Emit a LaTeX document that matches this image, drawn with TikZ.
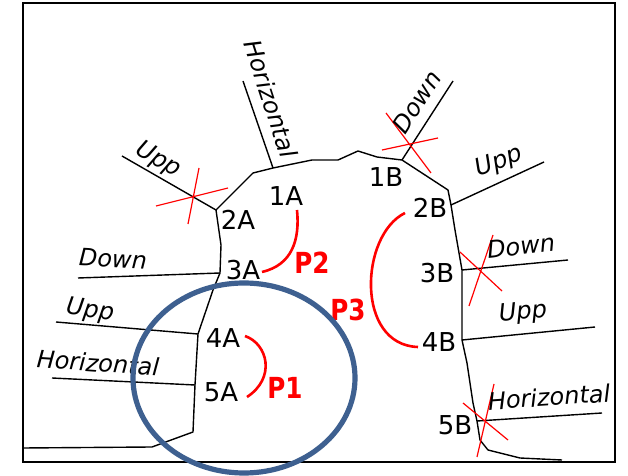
\documentclass[tikz,border=0pt]{standalone}
\usepackage{fontspec}
\setmainfont{DejaVu Sans}
\newfontfamily\passfont[FakeStretch=0.85]{DejaVu Sans}
\definecolor{ringblue}{HTML}{3E6090}
\begin{document}
\begin{tikzpicture}[x=0.5pt,y=-0.5pt,
    road/.style={black,line width=0.7pt,line join=round},
    cross/.style={red,line width=0.6pt},
    pass/.style={red,line width=1.3pt},
    hand/.style={font=\itshape\fontsize{12}{12}\selectfont,inner sep=1pt},
    stn/.style={font=\fontsize{13}{13}\selectfont},
    plabel/.style={red,font=\passfont\bfseries\fontsize{14.5}{14.5}\selectfont}]
    \useasboundingbox (0,0) rectangle (628,476);
    \draw[line width=1pt] (23,3) rectangle (615,462); %Frame
    % junction points
    \coordinate (j1A) at (273,168);
    \coordinate (j2A) at (216,210);
    \coordinate (j3A) at (220,273);
    \coordinate (j4A) at (198,334);
    \coordinate (j5A) at (195,385);
    \coordinate (j1B) at (402,160);
    \coordinate (j2B) at (451,205);
    \coordinate (j3B) at (462,270);
    \coordinate (j4B) at (462,340);
    \coordinate (j5B) at (477,421);
    % main road
    \draw[road] (23,448) -- (152,447) -- (193,432) -- (j5A) -- (j4A) -- (213,290)
        -- (j3A) -- (221,245) -- (j2A) -- (253,173) -- (j1A) -- (312,160)
        -- (338,160) -- (358,151) -- (377,157) -- (j1B) -- (448,190) -- (j2B)
        -- (455,230) -- (j3B) -- (j4B) -- (467,363) -- (473,403) -- (j5B)
        -- (480,440) -- (488,450) -- (520,458) -- (562,460);
    % side roads
    \draw[road] (j2A) -- (122,156);
    \draw[road] (j1A) -- (243,81);
    \draw[road] (j3A) -- (78,278);
    \draw[road] (j4A) -- (56,322);
    \draw[road] (j5A) -- (52,378);
    \draw[road] (j1B) -- (453,81);
    \draw[road] (j2B) -- (544,162);
    \draw[road] (j3B) -- (568,260);
    \draw[road] (j4B) -- (595,327);
    \draw[road] (j5B) -- (602,413);
    % closed roads
    \draw[cross] (156,206) -- (228,188) (199,168) -- (188,224);
    \draw[cross] (382,150) -- (438,138) (386,113) -- (431,173);
    \draw[cross] (460,252) -- (502,291) (493,235) -- (469,306);
    \draw[cross] (463,403) -- (508,440) (494,384) -- (477,457);
    % road names
    \node[hand,rotate=-30] (nUppA) at (158,160) {Upp};
    \node[hand,rotate=-72] (nHorA) at (271,99) {Horizontal};
    \node[hand,rotate=-3] (nDownA) at (113,259) {Down};
    \node[hand,rotate=-8] (nUppA2) at (90,311) {Upp};
    \node[hand,rotate=-4] (nHorA2) at (98,363) {Horizontal};
    \node[hand,rotate=57] (nDownB) at (417,102) {Down};
    \node[hand,rotate=20] (nUppB) at (499,162) {Upp};
    \node[hand,rotate=6] (nDownB2) at (521,246) {Down};
    \node[hand,rotate=5] (nUppB2) at (523,313) {Upp};
    \node[hand,rotate=4] (nHorB) at (549,397) {Horizontal};
    % stations
    \node[stn] (s1A) at (286,196) {1A};
    \node[stn] (s2A) at (238,220) {2A};
    \node[stn] (s3A) at (243,270) {3A};
    \node[stn] (s4A) at (223,338) {4A};
    \node[stn] (s5A) at (221,392) {5A};
    \node[stn] (s1B) at (386,177) {1B};
    \node[stn] (s2B) at (430,208) {2B};
    \node[stn] (s3B) at (437,273) {3B};
    \node[stn] (s4B) at (439,342) {4B};
    \node[stn] (s5B) at (455,425) {5B};
    % passages
    \draw[pass] (297,210) .. controls (300,240) and (292,265) .. (262,272);
    \draw[pass] (245,336) .. controls (268,344) and (276,378) .. (247,397);
    \draw[pass] (405,213) .. controls (360,235) and (355,345) .. (418,347);
    \node[plabel] (p1) at (285,388) {P1};
    \node[plabel] (p2) at (312,263) {P2};
    \node[plabel] (p3) at (348,310) {P3};
    \draw[ringblue,line width=2.6pt] (244,378) ellipse (111 and 95);
\end{tikzpicture}
\end{document}
